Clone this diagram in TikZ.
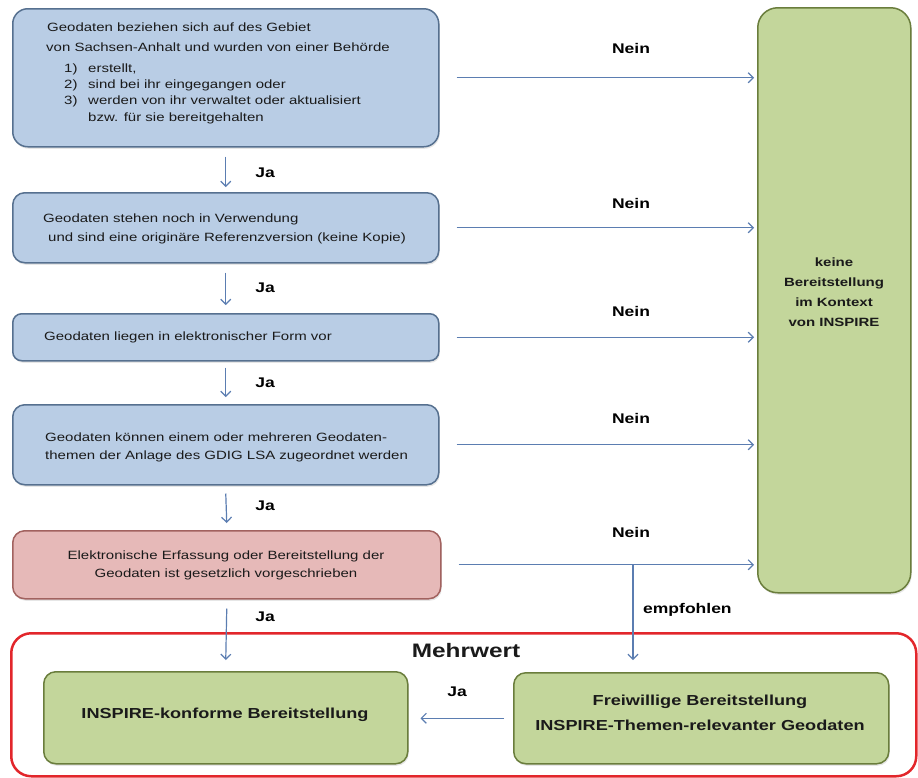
\documentclass[tikz,border=0pt]{standalone}
\usepackage{fontspec}
\setmainfont{Liberation Sans}[FakeStretch=1.25]
\usetikzlibrary{arrows.meta,shadows}
\definecolor{bfill}{HTML}{B9CDE5}
\definecolor{bdraw}{HTML}{56708F}
\definecolor{rfill}{HTML}{E6B9B8}
\definecolor{rdraw}{HTML}{A2625F}
\definecolor{gfill}{HTML}{C3D69B}
\definecolor{gdraw}{HTML}{6A7D3C}
\definecolor{arrc}{HTML}{5B7DB1}
\definecolor{mwred}{HTML}{E2262B}
\definecolor{txt}{HTML}{1A1A1A}
\begin{document}
\begin{tikzpicture}[x=1pt,y=-1pt,
  box/.style={line width=1.5pt, anchor=north west, inner sep=0pt, rounded corners=12pt},
  shbox/.style={box, drop shadow={shadow xshift=1pt, shadow yshift=-2pt, opacity=0.2}},
  bluebox/.style={shbox, fill=bfill, draw=bdraw},
  redbox/.style={shbox, fill=rfill, draw=rdraw},
  greenbox/.style={shbox, fill=gfill, draw=gdraw},
  arr/.style={draw=arrc, line width=1.2pt, -{Straight Barb[length=5pt,width=10pt]}},
  small/.style={font=\fontsize{12}{16}\selectfont, text=txt, inner sep=0pt},
  lab/.style={font=\fontsize{14}{16}\selectfont\bfseries, text=black, inner sep=0pt},
  big/.style={font=\fontsize{14.5}{18}\selectfont\bfseries, text=txt, inner sep=0pt},
  side/.style={font=\fontsize{12}{20}\selectfont\bfseries, text=txt, inner sep=0pt}
]
\useasboundingbox (0,0) rectangle (918,777);

% boxes
\node[bluebox, rounded corners=15pt, minimum width=426pt, minimum height=138pt] (b1) at (12,8) {};
\node[bluebox, minimum width=426pt, minimum height=70pt] (b2) at (12,192) {};
\node[bluebox, rounded corners=9pt, minimum width=426pt, minimum height=47pt] (b3) at (12,313) {};
\node[bluebox, minimum width=426pt, minimum height=80pt] (b4) at (12,404) {};
\node[redbox, minimum width=428pt, minimum height=68pt] (b5) at (12,530) {};
\node[greenbox, rounded corners=20pt, minimum width=153pt, minimum height=585pt] (kb) at (757,7) {};
\node[box, draw=mwred, line width=2.5pt, rounded corners=20pt, minimum width=905pt, minimum height=143pt] (mw) at (10,632) {};
\node[greenbox, minimum width=364pt, minimum height=92pt] (g1) at (43,671) {};
\node[greenbox, minimum width=375pt, minimum height=91pt] (g2) at (513,672) {};

% box texts
\node[small, anchor=base west] (t11) at (47,31) {Geodaten beziehen sich auf des Gebiet};
\node[small, anchor=base west] (t12) at (46,51) {von Sachsen-Anhalt und wurden von einer Behörde};
\node[small, anchor=base west] (n1) at (64,72) {1)};
\node[small, anchor=base west] (t13) at (88,72) {erstellt,};
\node[small, anchor=base west] (n2) at (64,88) {2)};
\node[small, anchor=base west] (t14) at (88,88) {sind bei ihr eingegangen oder};
\node[small, anchor=base west] (n3) at (64,104) {3)};
\node[small, anchor=base west] (t15) at (88,104) {werden von ihr verwaltet oder aktualisiert};
\node[small, anchor=base west] (t16) at (88,121) {bzw. für sie bereitgehalten};

\node[small, anchor=base west] (t21) at (43,222) {Geodaten stehen noch in Verwendung};
\node[small, anchor=base west] (t22) at (48,241) {und sind eine originäre Referenzversion (keine Kopie)};

\node[small, anchor=base west] (t31) at (44,340) {Geodaten liegen in elektronischer Form vor};

\node[small, anchor=base west] (t41) at (45,441) {Geodaten können einem oder mehreren Geodaten-};
\node[small, anchor=base west] (t42) at (45,459) {themen der Anlage des GDIG LSA zugeordnet werden};

\node[small, anchor=base] (t51) at (226,559) {Elektronische Erfassung oder Bereitstellung der};
\node[small, anchor=base] (t52) at (226,577) {Geodaten ist gesetzlich vorgeschrieben};

\node[side, anchor=base] (k1) at (834,266) {keine};
\node[side, anchor=base] (k2) at (834,286) {Bereitstellung};
\node[side, anchor=base] (k3) at (834,306) {im Kontext};
\node[side, anchor=base] (k4) at (834,326) {von INSPIRE};

\node[font=\fontsize{19.5}{22}\selectfont\bfseries, text=txt, inner sep=0pt, anchor=base] (mwt) at (466,657) {Mehrwert};
\node[big, anchor=base] (g1t) at (225,718) {INSPIRE-konforme Bereitstellung};
\node[big, anchor=base] (g2t1) at (700,705) {Freiwillige Bereitstellung};
\node[big, anchor=base] (g2t2) at (700,730) {INSPIRE-Themen-relevanter Geodaten};

% Nein arrows
\foreach \b/\ly in {b1/53,b2/208,b3/316,b4/423,b5/537}{
  \draw[arr] ([xshift=17pt]\b.east) -- ([xshift=-3pt]\b.east -| kb.west);
  \node[lab, anchor=base] (nein-\b) at (631,\ly) {Nein};
}

% Ja arrows
\draw[arr] ([yshift=-9pt]b1.south) -- ([yshift=5pt]b2.north);
\draw[arr] ([yshift=-9pt]b2.south) -- ([yshift=8pt]b3.north);
\draw[arr] ([yshift=-6pt]b3.south) -- ([yshift=7pt]b4.north);
\draw[arr] ([yshift=-8pt]b4.south) -- ([yshift=7pt]b5.north);
\draw[arr] ([yshift=-9pt]b5.south) -- ([yshift=11pt]g1.north);
\node[lab, anchor=base] (ja1) at (265,177) {Ja};
\node[lab, anchor=base] (ja2) at (265,292) {Ja};
\node[lab, anchor=base] (ja3) at (265,387) {Ja};
\node[lab, anchor=base] (ja4) at (265,510) {Ja};
\node[lab, anchor=base] (ja5) at (265,621) {Ja};

% empfohlen branch
\coordinate (br) at (633,564);
\coordinate (brend) at (633,660);
\draw[arr] (br) -- (brend);
\node[lab, anchor=base west] (emp) at (643,613) {empfohlen};

% Ja between bottom boxes
\draw[arr] ([xshift=-9pt]g2.west) -- ([xshift=12pt]g2.west -| g1.east);
\node[lab, anchor=base] (ja6) at (457,696) {Ja};
\end{tikzpicture}
\end{document}
